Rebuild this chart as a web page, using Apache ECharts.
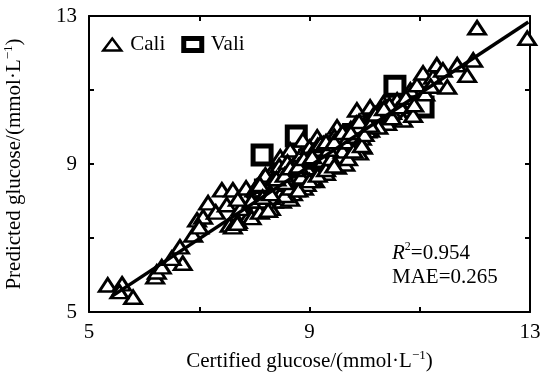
<!DOCTYPE html>
<html>
<head>
<meta charset="utf-8">
<script src="https://cdn.jsdelivr.net/npm/echarts@6/dist/echarts.min.js"></script>
<style>
  html, body { margin: 0; padding: 0; background: #fff; }
  #chart { width: 540px; height: 372px; }
</style>
</head>
<body>
<div id="chart"></div>
<script>
// calibration set (triangles)
const caliX = [5.34, 5.6, 5.8, 5.55, 6.2, 6.23, 6.32, 6.7, 6.65, 6.5, 6.89, 6.96, 7.07, 7.0, 7.16, 7.41, 7.61, 7.3, 7.55, 7.61, 7.7, 7.5, 7.8, 7.9, 7.75,
  8.0, 8.05, 8.1, 8.15, 8.2, 8.25, 8.3, 8.35, 8.4, 8.4, 8.45, 8.5, 8.55, 8.55, 8.6, 8.65, 8.7, 8.7, 8.75, 8.8, 8.8, 8.85, 8.9, 8.95, 9.0, 9.0,
  9.05, 9.1, 9.1, 9.15, 9.2, 9.25, 9.3, 9.3, 9.35, 9.4, 9.4, 9.45, 9.5, 9.5, 9.55, 9.6, 9.65, 9.7, 9.75, 9.8, 9.85, 9.9, 9.97, 10.0,
  8.41, 8.47, 8.65, 8.88, 9.01, 9.14, 9.32, 9.32, 9.5, 9.68, 9.74,
  7.69, 7.95, 8.1, 8.3, 8.5, 8.7, 8.9, 9.1, 9.3,
  9.86, 10.05, 10.1, 10.1, 10.34, 10.41, 10.59, 10.59, 10.7, 10.83, 10.88, 10.95, 11.06, 11.24, 11.31, 11.42, 11.5, 11.68, 11.86, 11.97, 12.04, 12.95,
  10.2, 10.5,
  8.0, 8.1, 8.2, 8.25, 8.3, 8.35, 8.45, 8.5, 8.6, 8.6, 8.65, 8.75, 8.75, 8.85, 8.9, 8.95, 9.0, 9.05, 9.15, 9.2, 9.25, 9.35, 9.4, 9.45,
  9.55, 9.6, 9.65, 9.7, 9.8, 9.85, 9.9, 9.95, 10.05, 10.15, 10.25, 10.3, 10.45, 10.5, 10.65, 10.75, 11.1, 11.2, 10.9, 7.85, 7.95, 7.7, 8.05,
  8.2, 8.3, 8.4, 8.45, 8.5, 8.55, 8.6, 8.65, 8.7, 8.8, 8.85, 8.9, 8.95, 9.0, 9.05, 9.1, 9.15, 9.2, 9.25, 9.3,
  9.35, 9.4, 9.45, 9.5, 9.55, 9.6, 9.65, 9.7, 9.75, 9.8, 9.85, 9.9, 9.95, 10.0, 8.35, 8.55, 8.75, 8.95, 9.15, 9.35,
  8.1, 8.15, 8.3, 8.4, 8.55, 8.65, 8.8, 8.9, 9.05, 9.2, 9.3, 9.45, 9.6, 9.75, 9.9, 10.1, 10.2, 10.35];
const caliY = [5.73, 5.76, 5.4, 5.55, 5.95, 6.08, 6.22, 6.32, 6.76, 6.45, 7.08, 7.49, 7.57, 7.3, 7.95, 8.3, 8.3, 7.7, 7.35, 7.3, 7.45, 7.9, 8.1, 7.6, 7.8,
  8.0, 7.85, 8.25, 8.6, 7.9, 8.15, 8.45, 8.0, 8.7, 8.3, 8.1, 8.55, 8.9, 8.3, 8.2, 8.65, 8.95, 8.4, 8.7, 8.5, 9.1, 8.85, 8.6, 9.2, 8.9, 8.7,
  9.05, 8.8, 9.35, 9.0, 9.2, 8.76, 9.45, 9.05, 9.25, 9.6, 9.0, 9.35, 9.7, 8.92, 9.5, 9.2, 9.8, 9.4, 9.65, 9.9, 9.5, 9.8, 9.46, 10.0,
  8.92, 9.19, 9.38, 9.65, 9.3, 9.73, 9.57, 9.19, 10.0, 9.73, 9.92,
  7.4, 7.55, 7.7, 7.8, 8.0, 8.2, 8.35, 8.55, 8.75,
  10.46, 10.19, 10.54, 9.92, 10.65, 10.1, 10.73, 10.46, 10.19, 11.0, 10.32, 11.14, 11.46, 11.35, 11.68, 11.54, 11.08, 11.68, 11.4, 11.81, 12.68, 12.4,
  10.3, 10.4,
  8.3, 8.0, 8.5, 7.75, 8.75, 8.35, 8.85, 8.25, 8.8, 8.45, 8.05, 9.0, 8.3, 9.25, 8.8, 8.45, 9.45, 8.6, 9.2, 8.9, 9.55, 8.95, 9.3, 9.75,
  9.15, 9.55, 9.0, 9.85, 9.6, 10.1, 9.3, 9.7, 9.9, 10.3, 10.0, 10.5, 10.6, 10.25, 10.55, 10.8, 10.9, 11.1, 10.6, 8.35, 8.0, 8.05, 8.4,
  8.7, 8.1, 8.5, 8.95, 8.75, 8.15, 9.05, 8.35, 8.6, 8.3, 8.65, 9.05, 8.9, 8.55, 9.3, 9.05, 8.7, 9.4, 9.1, 8.85,
  9.55, 9.15, 8.95, 9.4, 9.75, 9.35, 9.6, 9.15, 9.95, 9.35, 9.75, 10.0, 9.5, 9.8, 8.6, 8.5, 8.85, 9.1, 9.5, 9.4,
  8.45, 8.1, 8.2, 8.6, 8.7, 8.9, 8.95, 9.15, 9.2, 9.55, 9.6, 9.6, 9.85, 9.85, 10.15, 10.05, 10.35, 10.5];

// validation set (squares)
const valiX = [8.14, 8.76, 10.55, 11.06, 8.5, 9.0, 9.3, 8.2, 9.8];
const valiY = [9.24, 9.76, 11.1, 10.54, 8.6, 9.1, 9.3, 8.3, 9.8];

// fitted line end points
const fitX = [5.42, 12.97];
const fitY = [5.43, 12.84];

const axisTicks = [5, 9, 13];

function pairs(xs, ys) {
  return xs.map((x, i) => [x, ys[i]]);
}

var chart = echarts.init(document.getElementById('chart'), null, { renderer: 'canvas' });

const font = 'Liberation Serif';
const fs = 21;
function tickLabel(v) {
  return axisTicks.indexOf(v) >= 0 ? String(v) : '';
}

const baseAxis = {
  min: 5,
  max: 13,
  interval: 2,
  axisLine: { show: true, lineStyle: { color: '#000', width: 2 } },
  axisTick: { show: true, inside: true, length: 5, lineStyle: { color: '#000', width: 2 } },
  splitLine: { show: false }
};

const nameRich = {
  a: { fontFamily: font, fontSize: fs, color: '#000', lineHeight: 24 },
  s: { fontFamily: font, fontSize: 13, color: '#000', verticalAlign: 'top', lineHeight: 24 }
};

var option = {
  backgroundColor: '#fff',
  animation: false,
  grid: { left: 89, right: 10, top: 16, bottom: 60, show: false, containLabel: false, outerBoundsMode: 'none' },
  legend: {
    left: 97,
    top: 29,
    itemGap: 16,
    itemWidth: 18,
    itemHeight: 12,
    data: [
      { name: 'Cali', icon: 'triangle', itemStyle: { color: '#fff', borderColor: '#000', borderWidth: 2.5 } },
      { name: 'Vali', icon: 'rect', itemStyle: { color: '#fff', borderColor: '#000', borderWidth: 5 } }
    ],
    textStyle: { fontFamily: font, fontSize: fs, color: '#000', padding: [0, 0, 0, 4] }
  },
  xAxis: [
    Object.assign({}, baseAxis, {
      type: 'value',
      position: 'bottom',
      name: '{a|Certified glucose/(mmol·L}{s|−1}{a|)}',
      nameLocation: 'middle',
      nameGap: 37,
      nameTextStyle: { rich: nameRich },
      axisLabel: { formatter: tickLabel, fontFamily: font, fontSize: fs, color: '#000', margin: 10 }
    }),
    Object.assign({}, baseAxis, {
      type: 'value',
      position: 'top',
      axisLabel: { show: false }
    })
  ],
  yAxis: [
    Object.assign({}, baseAxis, {
      type: 'value',
      position: 'left',
      name: '{a|Predicted glucose/(mmol·L}{s|−1}{a|)}',
      nameLocation: 'middle',
      nameGap: 63,
      nameTextStyle: { rich: nameRich },
      axisLabel: { formatter: tickLabel, fontFamily: font, fontSize: fs, color: '#000', margin: 12 }
    }),
    Object.assign({}, baseAxis, {
      type: 'value',
      position: 'right',
      axisLabel: { show: false }
    })
  ],
  series: [
    {
      name: 'Vali',
      type: 'scatter',
      data: pairs(valiX, valiY),
      symbol: 'rect',
      symbolSize: 18,
      itemStyle: { color: '#fff', borderColor: '#000', borderWidth: 5, opacity: 1 },
      z: 2
    },
    {
      name: 'Cali',
      type: 'scatter',
      data: pairs(caliX, caliY),
      symbol: 'triangle',
      symbolSize: [17, 13],
      itemStyle: { color: '#fff', borderColor: '#000', borderWidth: 2.8, opacity: 1 },
      z: 3
    },
    {
      name: 'fit',
      type: 'line',
      data: pairs(fitX, fitY),
      symbol: 'none',
      lineStyle: { color: '#000', width: 3.5 },
      z: 4
    }
  ],
  graphic: [
    {
      type: 'text',
      left: 392,
      top: 241,
      style: {
        text: '{i|R}{s|2}{n|=0.954}\n{n|MAE=0.265}',
        rich: {
          i: { fontFamily: font, fontSize: fs, fontStyle: 'italic', fill: '#000', lineHeight: 24 },
          s: { fontFamily: font, fontSize: 12, fill: '#000', verticalAlign: 'top', lineHeight: 24 },
          n: { fontFamily: font, fontSize: fs, fill: '#000', lineHeight: 24 }
        }
      }
    }
  ]
};

chart.setOption(option);
</script>
</body>
</html>
